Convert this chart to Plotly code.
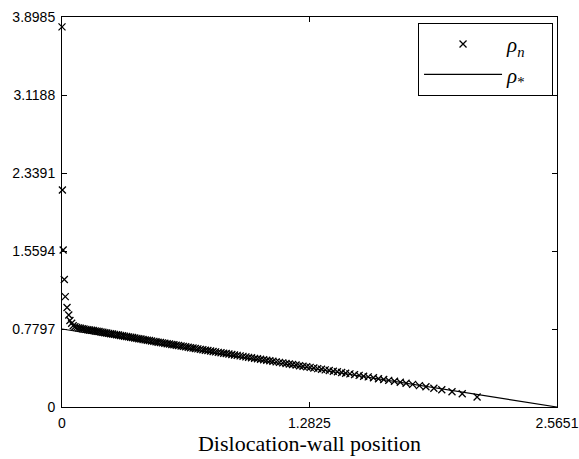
import plotly.graph_objects as go

# Discrete dislocation density rho_n (crosses)
x_n = [0.000, 0.002, 0.006, 0.012, 0.017, 0.026, 0.035, 0.041, 0.050, 0.058,
       0.067, 0.076, 0.086, 0.095,
       0.105, 0.114, 0.124, 0.134, 0.143, 0.153, 0.162, 0.172, 0.182, 0.192,
       0.202, 0.212, 0.222, 0.232, 0.242, 0.252, 0.262, 0.272, 0.283, 0.293,
       0.303, 0.314, 0.324, 0.335, 0.345, 0.356, 0.366, 0.377, 0.388, 0.398,
       0.409, 0.420, 0.431, 0.442, 0.453, 0.464, 0.476, 0.487, 0.498,
       0.510, 0.521, 0.533, 0.545, 0.557, 0.569, 0.580, 0.592,
       0.604, 0.617, 0.629, 0.641, 0.654, 0.666, 0.679, 0.691,
       0.704, 0.717, 0.730, 0.743, 0.756, 0.770, 0.783, 0.796,
       0.810, 0.824, 0.838, 0.851, 0.865, 0.880, 0.894,
       0.908, 0.923, 0.938, 0.953, 0.967, 0.982, 0.998,
       1.013, 1.029, 1.045, 1.061, 1.077, 1.093,
       1.110, 1.127, 1.144, 1.161, 1.178, 1.195,
       1.213, 1.231, 1.249, 1.268, 1.286,
       1.305, 1.325, 1.345, 1.364, 1.385,
       1.406, 1.427, 1.449, 1.470, 1.492,
       1.516, 1.540, 1.563, 1.587,
       1.614, 1.640, 1.667, 1.693,
       1.723, 1.753, 1.783,
       1.817, 1.852, 1.886,
       1.927, 1.968,
       2.021, 2.074, 2.151]
rho_n = [3.800, 2.170, 1.570, 1.275, 1.103, 0.995, 0.920, 0.865, 0.837, 0.812,
         0.802, 0.796, 0.791, 0.787,
         0.783, 0.780, 0.776, 0.773, 0.770, 0.767, 0.764, 0.760, 0.757, 0.754,
         0.750, 0.747, 0.743, 0.740, 0.736, 0.733, 0.730, 0.726, 0.722, 0.719,
         0.715, 0.712, 0.708, 0.704, 0.701, 0.697, 0.694, 0.690, 0.686, 0.683,
         0.679, 0.675, 0.671, 0.668, 0.664, 0.660, 0.656, 0.652, 0.648,
         0.644, 0.641, 0.637, 0.633, 0.629, 0.625, 0.622, 0.618,
         0.614, 0.610, 0.606, 0.602, 0.597, 0.593, 0.589, 0.585,
         0.581, 0.576, 0.572, 0.568, 0.564, 0.559, 0.555, 0.551,
         0.546, 0.542, 0.538, 0.534, 0.529, 0.524, 0.520,
         0.516, 0.511, 0.506, 0.501, 0.496, 0.492, 0.486,
         0.482, 0.477, 0.472, 0.467, 0.462, 0.457,
         0.451, 0.446, 0.441, 0.435, 0.430, 0.424,
         0.419, 0.413, 0.408, 0.402, 0.396,
         0.390, 0.384, 0.377, 0.371, 0.365,
         0.358, 0.352, 0.345, 0.338, 0.331,
         0.324, 0.316, 0.308, 0.301,
         0.292, 0.283, 0.275, 0.266,
         0.257, 0.247, 0.238,
         0.226, 0.214, 0.202,
         0.188, 0.173,
         0.153, 0.132, 0.100]

# Continuum density rho_* (straight line)
x_star = [0.0, 2.5651]
rho_star = [0.7797, 0.0]

x_ticks = [0, 1.2825, 2.5651]
x_tick_labels = ["0", "1.2825", "2.5651"]
y_ticks = [0, 0.7797, 1.5594, 2.3391, 3.1188, 3.8985]
y_tick_labels = ["0", "0.7797", "1.5594", "2.3391", "3.1188", "3.8985"]

PAD = "&nbsp;" * 4

fig = go.Figure()
fig.add_trace(go.Scatter(
    x=x_n, y=rho_n, mode="markers", name="<i>ρ</i><sub><i>n</i></sub>" + PAD,
    marker=dict(symbol="x-thin", size=7, color="black",
                line=dict(width=1.3, color="black")),
    cliponaxis=False,
))
fig.add_trace(go.Scatter(
    x=x_star, y=rho_star, mode="lines", name="<i>ρ</i><sub>*</sub>" + PAD,
    line=dict(color="black", width=1.2),
))

axis_common = dict(
    showline=True, linecolor="black", linewidth=1, mirror="ticks",
    ticks="inside", ticklen=5, tickcolor="black", tickwidth=1,
    showgrid=False, zeroline=False, automargin=False,
    tickfont=dict(family="Liberation Sans", size=14, color="black"),
)

fig.update_layout(
    width=579, height=459,
    margin=dict(l=62, r=22, t=17, b=52),
    paper_bgcolor="white", plot_bgcolor="white",
    xaxis=dict(range=[0, 2.5651], tickvals=x_ticks, ticktext=x_tick_labels,
               ticklabelstandoff=3,
               title=dict(text="Dislocation-wall position",
                          font=dict(family="Liberation Serif", size=22, color="black"),
                          standoff=2),
               **axis_common),
    yaxis=dict(range=[0, 3.8985], tickvals=y_ticks, ticktext=y_tick_labels,
               ticklabelstandoff=3,
               **axis_common),
    legend=dict(x=0.992, y=0.985, xanchor="right", yanchor="top",
                bordercolor="black", borderwidth=1, bgcolor="white",
                font=dict(family="Liberation Serif", size=21, color="black"),
                itemwidth=78, tracegroupgap=2),
    showlegend=True,
)

fig.write_html("out.html", config={"displayModeBar": False},
               post_script="document.body.style.margin='0';")
